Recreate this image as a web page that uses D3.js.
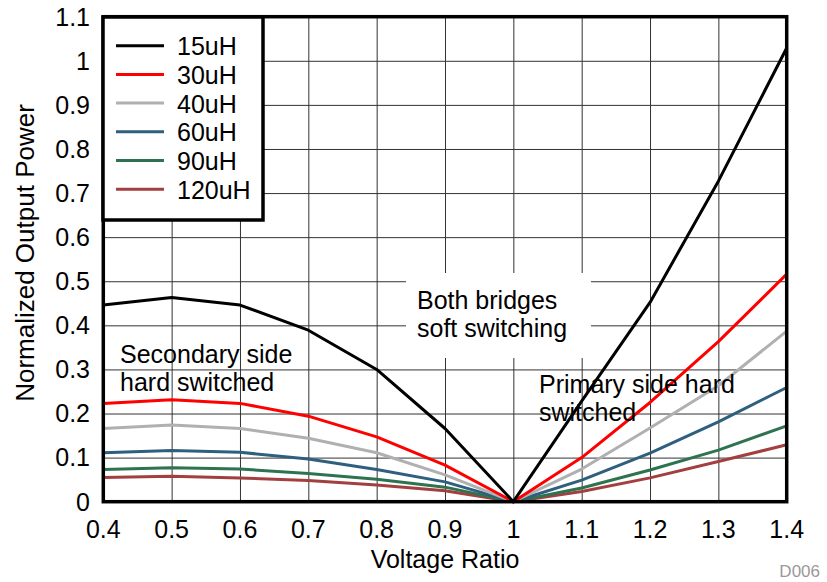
<!DOCTYPE html>
<html lang="en">
<head>
<meta charset="UTF-8">
<title>Normalized Output Power vs Voltage Ratio</title>
<script src="https://d3js.org/d3.v7.min.js"></script>
<style>
    body { margin: 0; padding: 0; background: #fff; }
    text { font-family: "Liberation Sans", Arial, sans-serif; fill: #000; }
</style>
</head>
<body>
<svg width="827" height="582"></svg>
<script>
    // data
    const ratios = [0.4, 0.5, 0.6, 0.7, 0.8, 0.9, 1.0, 1.1, 1.2, 1.3, 1.4];
    const seriesNames = ["15uH", "30uH", "40uH", "60uH", "90uH", "120uH"];
    const seriesColors = ["#000000", "#ff0000", "#b0b0b0", "#2e5f7e", "#2e7350", "#a33f3f"];
    const p15 = [0.446, 0.463, 0.446, 0.389, 0.300, 0.166, 0, 0.228, 0.452, 0.727, 1.029];
    const p30 = [0.223, 0.231, 0.223, 0.194, 0.147, 0.083, 0, 0.100, 0.225, 0.363, 0.516];
    const p40 = [0.166, 0.174, 0.166, 0.144, 0.111, 0.061, 0, 0.074, 0.167, 0.263, 0.387];
    const p60 = [0.111, 0.116, 0.112, 0.097, 0.073, 0.045, 0, 0.049, 0.110, 0.181, 0.259];
    const p90 = [0.073, 0.077, 0.074, 0.064, 0.051, 0.033, 0, 0.031, 0.072, 0.117, 0.172];
    const p120 = [0.055, 0.058, 0.054, 0.048, 0.038, 0.025, 0, 0.023, 0.054, 0.091, 0.129];
    const allSeries = [p15, p30, p40, p60, p90, p120];
    const xTicks = [0.4, 0.5, 0.6, 0.7, 0.8, 0.9, 1, 1.1, 1.2, 1.3, 1.4];
    const yTicks = [0, 0.1, 0.2, 0.3, 0.4, 0.5, 0.6, 0.7, 0.8, 0.9, 1, 1.1];

    const svg = d3.select("svg");
    const pLeft = 103.3, pRight = 786.7, pTop = 16.7, pBottom = 501.7;
    const fs = 25;

    const x = d3.scaleLinear().domain([0.4, 1.4]).range([pLeft, pRight]);
    const y = d3.scaleLinear().domain([0, 1.1]).range([pBottom, pTop]);

    // grid
    svg.append("g")
        .attr("transform", `translate(0,${pBottom})`)
        .call(d3.axisBottom(x).tickValues(xTicks).tickSize(-(pBottom - pTop)).tickFormat(""))
        .call(g => g.select(".domain").remove())
        .selectAll("line").attr("stroke", "#333").attr("stroke-width", 1);
    svg.append("g")
        .attr("transform", `translate(${pLeft},0)`)
        .call(d3.axisLeft(y).tickValues(yTicks).tickSize(-(pRight - pLeft)).tickFormat(""))
        .call(g => g.select(".domain").remove())
        .selectAll("line").attr("stroke", "#333").attr("stroke-width", 1);

    // tick labels
    svg.append("g").selectAll("text").data(xTicks).join("text")
        .attr("x", d => x(d)).attr("y", 538)
        .attr("text-anchor", "middle").attr("font-size", fs)
        .text(d => d3.format("~g")(d));
    svg.append("g").selectAll("text").data(yTicks).join("text")
        .attr("x", 90).attr("y", d => y(d) + 8.8)
        .attr("text-anchor", "end").attr("font-size", fs)
        .text(d => d3.format("~g")(d));

    // axis titles
    svg.append("text").attr("x", (pLeft + pRight) / 2).attr("y", 568)
        .attr("text-anchor", "middle").attr("font-size", fs).text("Voltage Ratio");
    svg.append("text").attr("transform", "translate(34,253) rotate(-90)")
        .attr("text-anchor", "middle").attr("font-size", 26).text("Normalized Output Power");
    svg.append("text").attr("x", 820).attr("y", 577)
        .attr("text-anchor", "end").attr("font-size", 17).style("fill", "#999").text("D006");

    // white box behind the middle note
    svg.append("rect").attr("x", 406).attr("y", 273).attr("width", 185).attr("height", 85)
        .attr("fill", "#fff");

    // series
    const line = d3.line().x((d, i) => x(ratios[i])).y(d => y(d));
    svg.append("g").selectAll("path").data(allSeries.slice().reverse()).join("path")
        .attr("d", d => line(d))
        .attr("fill", "none")
        .attr("stroke", (d, i) => seriesColors[allSeries.length - 1 - i])
        .attr("stroke-width", 3)
        .attr("stroke-linejoin", "round");

    // notes
    const notes = [
        { x: 417, y: 309, t: "Both bridges" },
        { x: 417, y: 337, t: "soft switching" },
        { x: 120, y: 363, t: "Secondary side" },
        { x: 120, y: 391, t: "hard switched" },
        { x: 539, y: 393, t: "Primary side hard" },
        { x: 539, y: 421, t: "switched" }
    ];
    svg.append("g").selectAll("text").data(notes).join("text")
        .attr("x", d => d.x).attr("y", d => d.y).attr("font-size", fs).text(d => d.t);

    // frame
    svg.append("rect").attr("x", pLeft).attr("y", pTop)
        .attr("width", pRight - pLeft).attr("height", pBottom - pTop)
        .attr("fill", "none").attr("stroke", "#000").attr("stroke-width", 3.5);

    // legend
    const lg = svg.append("g");
    lg.append("rect").attr("x", 103).attr("y", 17).attr("width", 160).attr("height", 203)
        .attr("fill", "#fff").attr("stroke", "#000").attr("stroke-width", 3.5);
    const rows = lg.selectAll("g").data(seriesNames).join("g")
        .attr("transform", (d, i) => `translate(0,${45.7 + i * 28.7})`);
    rows.append("line").attr("x1", 116).attr("x2", 164)
        .attr("stroke", (d, i) => seriesColors[i]).attr("stroke-width", 3);
    rows.append("text").attr("x", 177).attr("y", 9.5).attr("font-size", fs).text(d => d);
</script>
</body>
</html>
